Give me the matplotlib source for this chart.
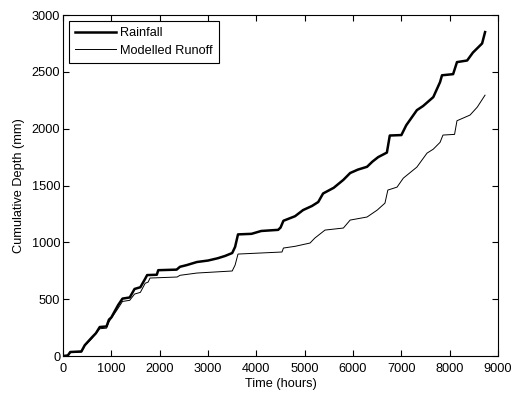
import matplotlib
matplotlib.use("Agg")
import matplotlib.pyplot as plt

plt.rcParams['font.family'] = ['Liberation Sans', 'DejaVu Sans']

# cumulative rainfall breakpoints (hours, mm)
rain_t = [0, 100, 150, 380, 450, 600, 680, 760, 900, 950, 1000, 1140, 1230, 1380,
          1480, 1600, 1700, 1740, 1940, 1970, 2350, 2420, 2560, 2770, 3000, 3200,
          3350, 3500, 3560, 3620, 3900, 4100, 4450, 4500, 4560, 4800, 4966, 5150,
          5280, 5380, 5600, 5800, 5940, 6100, 6290, 6400, 6520, 6700, 6760, 7000,
          7100, 7320, 7450, 7660, 7800, 7840, 8070, 8150, 8360, 8480, 8670, 8731]
rain_d = [0, 5, 35, 40, 95, 165, 200, 255, 260, 320, 340, 448, 505, 515,
          590, 605, 680, 712, 715, 755, 760, 785, 800, 827, 840, 860,
          880, 906, 960, 1070, 1075, 1100, 1110, 1130, 1190, 1230, 1284, 1320,
          1355, 1430, 1480, 1550, 1610, 1640, 1665, 1710, 1750, 1790, 1940, 1944,
          2030, 2163, 2200, 2278, 2410, 2470, 2480, 2586, 2600, 2670, 2750, 2850]

# modelled runoff breakpoints (hours, mm)
runoff_t = [0, 100, 150, 380, 450, 600, 760, 900, 950, 1140, 1230, 1380, 1480, 1600,
            1700, 1760, 1800, 2360, 2420, 2770, 3500, 3560, 3620, 4530, 4560, 4800,
            5110, 5210, 5420, 5800, 5940, 6290, 6500, 6660, 6720, 6910, 7040, 7320,
            7530, 7660, 7800, 7860, 8100, 8150, 8420, 8570, 8730]
runoff_d = [0, 5, 30, 35, 90, 155, 240, 245, 300, 420, 480, 490, 545, 560,
            640, 650, 686, 695, 710, 730, 748, 800, 897, 915, 950, 965,
            994, 1038, 1108, 1126, 1196, 1223, 1284, 1345, 1460, 1486, 1565, 1662,
            1785, 1820, 1880, 1944, 1950, 2070, 2120, 2190, 2295]

fig = plt.figure(figsize=(5.14, 3.96), dpi=100)
ax = fig.add_axes([0.1226, 0.101, 0.8464, 0.861])

ax.plot(rain_t, rain_d, color='black', linewidth=1.8, label='Rainfall')
ax.plot(runoff_t, runoff_d, color='black', linewidth=0.7, label='Modelled Runoff')

ax.set_xlim(0, 9000)
ax.set_ylim(0, 3000)
ax.set_xticks(range(0, 9001, 1000))
ax.set_yticks(range(0, 3001, 500))
ax.tick_params(direction='in', top=True, right=True, labelsize=9.2, length=4, width=0.8)
ax.tick_params(axis='x', pad=5)
ax.tick_params(axis='y', pad=2)
for s in ax.spines.values():
    s.set_linewidth(0.8)

ax.set_xlabel('Time (hours)', fontsize=9.2, labelpad=2)
ax.set_ylabel('Cumulative Depth (mm)', fontsize=9.2, labelpad=5)

leg = ax.legend(loc='upper left', fontsize=9.2, fancybox=False, framealpha=1,
                edgecolor='black', borderaxespad=0.45, handlelength=3.2,
                handletextpad=0.3, labelspacing=0.45, borderpad=0.5)
leg.get_frame().set_linewidth(0.8)

fig.savefig('out.png', dpi=100)
